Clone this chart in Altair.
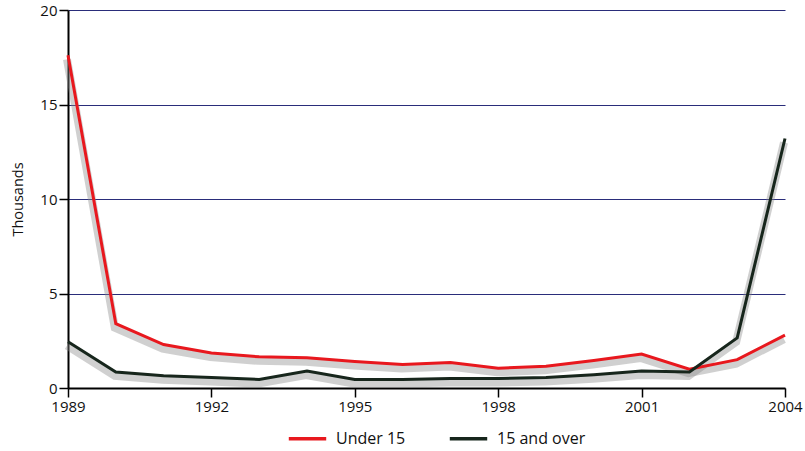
import altair as alt
import pandas as pd

years = list(range(1989, 2005))
under_15 = [17.6, 3.4, 2.3, 1.85, 1.65, 1.6, 1.4, 1.25, 1.35, 1.05, 1.15, 1.45, 1.8, 1.0, 1.5, 2.8]
over_15 = [2.45, 0.85, 0.65, 0.55, 0.45, 0.9, 0.45, 0.45, 0.5, 0.5, 0.55, 0.7, 0.9, 0.85, 2.65, 13.2]
series = ["Under 15", "15 and over"]
colors = ["#e8181e", "#17261c"]
x_ticks = [1989, 1992, 1995, 1998, 2001, 2004]
y_ticks = [0, 5, 10, 15, 20]

rows = []
for name, vals in zip(series, [under_15, over_15]):
    for yr, v in zip(years, vals):
        rows.append({"year": yr, "value": v, "series": name})
df = pd.DataFrame(rows)

FONT = "Open Sans"

x = alt.X("year:Q", scale=alt.Scale(domain=[1989, 2004], nice=False, zero=False),
          axis=alt.Axis(values=x_ticks, format="d", title=None, grid=False,
                        domainColor="black", domainWidth=2, tickColor="black",
                        tickWidth=1.5, tickSize=9, labelFontSize=15, labelFont=FONT,
                        labelColor="#111", labelPadding=2, labelFlush=False))
y = alt.Y("value:Q", scale=alt.Scale(domain=[0, 20], nice=False),
          axis=alt.Axis(values=y_ticks, title="Thousands", titleFont=FONT, titleFontSize=14.5,
                        titleFontWeight="normal", titleColor="#111", titlePadding=14,
                        grid=True, gridColor="#2a2d7a", gridWidth=1,
                        domainColor="black", domainWidth=2, tickColor="black",
                        tickWidth=1.5, tickSize=9, labelFontSize=15, labelFont=FONT,
                        labelColor="#111", labelPadding=2, labelFlush=False))

shadow = alt.Chart(df).mark_line(strokeWidth=8, color="#8a8a8a", opacity=0.4,
                                 yOffset=4, xOffset=-1).encode(
    x=x, y=y, detail="series:N")

lines = alt.Chart(df).mark_line(strokeWidth=3).encode(
    x=x, y=y,
    color=alt.Color("series:N", sort=series,
                    scale=alt.Scale(domain=series, range=colors),
                    legend=alt.Legend(title=None, orient="none", direction="horizontal",
                                      legendX=219, legendY=408,
                                      symbolType="stroke", symbolSize=1400,
                                      symbolStrokeWidth=3.5, labelFont=FONT,
                                      labelFontSize=16, labelColor="#111",
                                      columnPadding=36, labelOffset=8)))

chart = alt.layer(shadow, lines).properties(
    width=717, height=378,
    autosize=alt.AutoSizeParams(type="none"),
    padding={"left": 68, "top": 10, "right": 20, "bottom": 63},
    background="white",
).configure_view(stroke=None)

chart.save("out.html", embed_options={"renderer": "svg", "actions": False})
